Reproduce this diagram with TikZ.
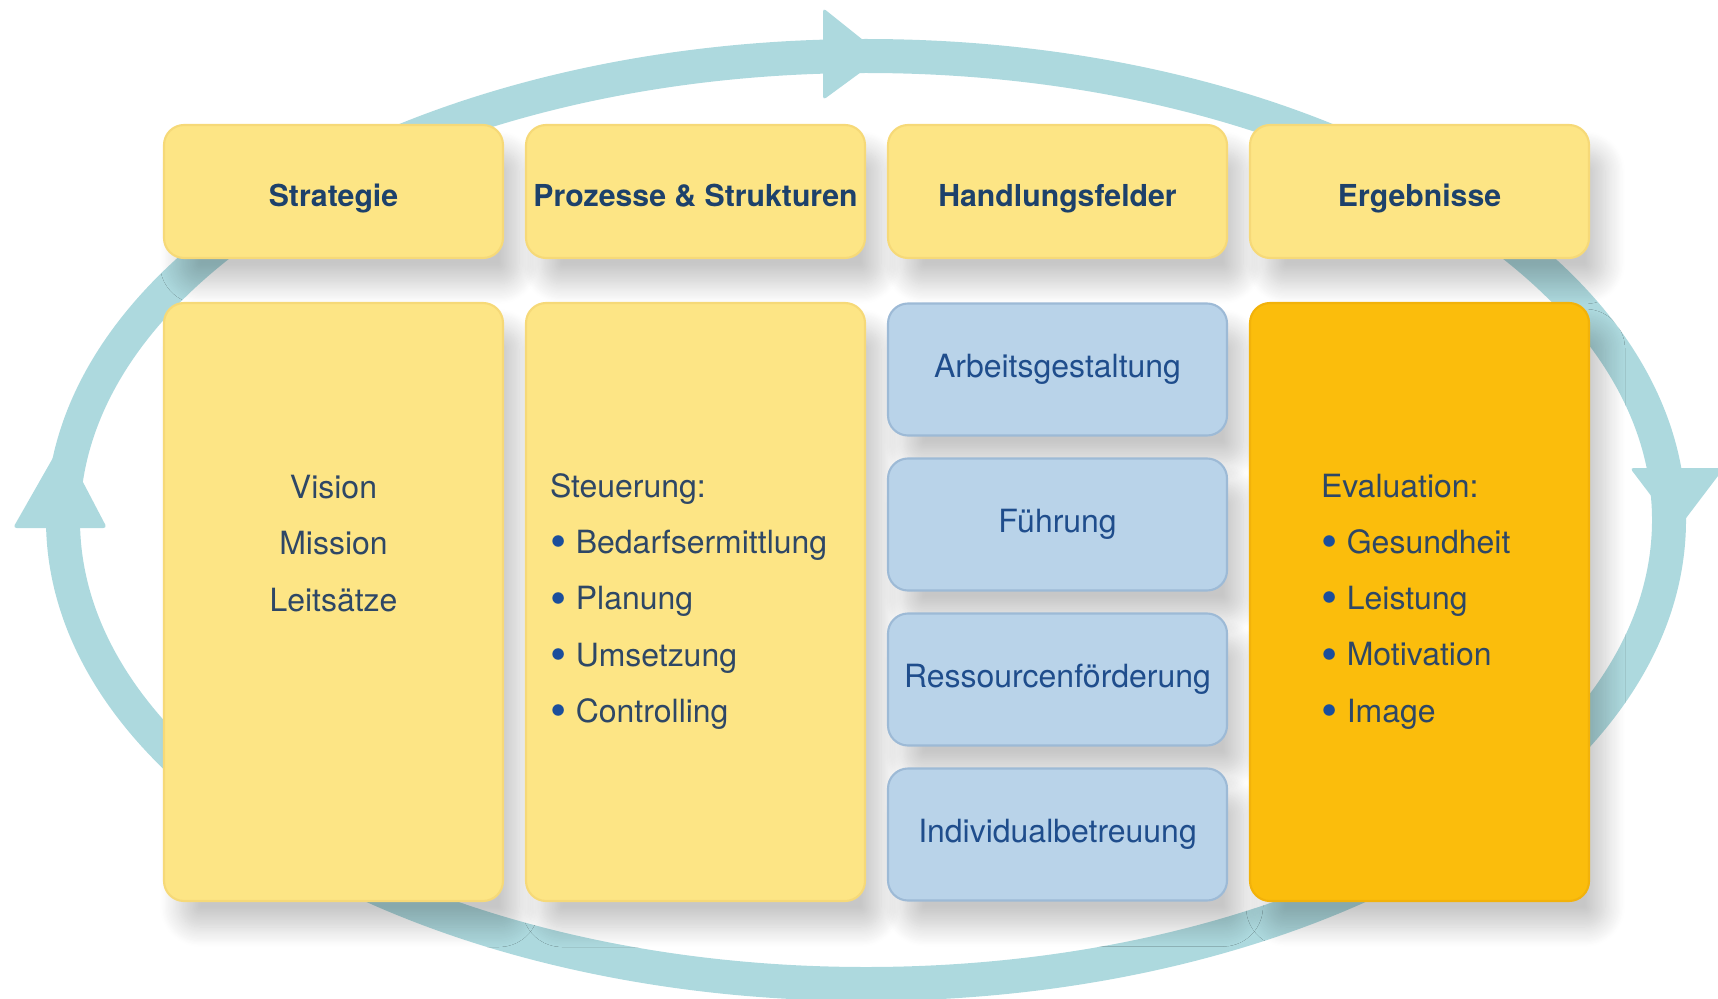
\documentclass[tikz,border=0pt]{standalone}
\usepackage{fontspec}
\setmainfont{TeX Gyre Heros}
\usetikzlibrary{calc,shadows.blur}

\definecolor{ringblue}{HTML}{ADD9DE}
\definecolor{lightyellow}{HTML}{FDE585}
\definecolor{yellowline}{HTML}{F6D978}
\definecolor{darkyellow}{HTML}{FBBD0C}
\definecolor{orangeline}{HTML}{F2B20A}
\definecolor{fieldblue}{HTML}{B9D3E9}
\definecolor{fieldline}{HTML}{9DBAD6}
\definecolor{titlenavy}{HTML}{1D416B}
\definecolor{textnavy}{HTML}{2E4766}
\definecolor{fieldtext}{HTML}{1F4D8C}
\definecolor{bulletblue}{HTML}{1B4E9B}

\newcommand{\bul}{{\color{bulletblue}\raisebox{-0.25ex}{\scalebox{1.45}{\textbullet}}}\hspace{0.3em}}

\begin{document}
\begin{tikzpicture}[
  every node/.style={inner sep=0pt, outer sep=0pt},
  boxshadow/.style={blur shadow={shadow xshift=0.16cm, shadow yshift=-0.26cm,
                    shadow blur radius=0.2cm, shadow blur steps=18, shadow opacity=22}},
  headbox/.style={boxshadow, rounded corners=0.2cm, fill=lightyellow, draw=yellowline,
                  line width=0.6pt, minimum width=3.39cm, minimum height=1.33cm,
                  text height=0.30cm, text depth=0cm,
                  font=\fontsize{8.6}{10}\selectfont\bfseries, text=titlenavy},
  colbox/.style={headbox, minimum height=5.98cm},
  fieldbox/.style={headbox, fill=fieldblue, draw=fieldline, minimum height=1.32cm,
                   text height=0.16cm, font=\fontsize{9.1}{10}\selectfont, text=fieldtext},
  listtext/.style={align=left, anchor=west, text=textnavy,
                   font=\fontsize{9.1}{16.0}\selectfont}
]

\useasboundingbox (0,0) rectangle (17.18,9.98);

% The cycle ring behind the boxes
\coordinate (hub) at (8.66,4.78);
\draw[ringblue, line width=0.34cm] (hub) ellipse [x radius=8.03, y radius=4.64];

% Arrow heads on the ring (top, left, right)
\fill[ringblue, rounded corners=1pt] (8.23,9.90) -- (8.83,9.42) -- (8.23,8.98) -- cycle;
\fill[ringblue, rounded corners=1pt] (0.13,4.70) -- (0.62,5.56) -- (1.07,4.70) -- cycle;
\fill[ringblue, rounded corners=1pt] (16.30,5.30) -- (16.77,4.68) -- (17.24,5.30) -- cycle;

% Head boxes
\node [headbox] (strategie) at (3.335,8.065) {Strategie};
\node [headbox] (prozesse) at ($(strategie)+(3.62,0)$) {Prozesse \& Strukturen};
\node [headbox] (handlung) at ($(prozesse)+(3.62,0)$) {Handlungsfelder};
\node [headbox] (ergebnis) at ($(handlung)+(3.62,0)$) {Ergebnisse};

% Column boxes below the heads
\node [colbox] (vision) at (3.335,3.96) {};
\node [colbox] (steuerung) at ($(vision)+(3.62,0)$) {};

% Fields of action, stacked
\node [fieldbox] (arbeit) at (10.575,6.285) {Arbeitsgestaltung};
\node [fieldbox] (fuehrung) at ($(arbeit)+(0,-1.55)$) {Führung};
\node [fieldbox] (ressourcen) at ($(fuehrung)+(0,-1.55)$) {Ressourcenförderung};
\node [fieldbox] (individual) at ($(ressourcen)+(0,-1.55)$) {Individualbetreuung};

% Results column, drawn last so no shadow lies on it
\node [colbox, fill=darkyellow, draw=orangeline] (evaluation) at ($(steuerung)+(7.24,0)$) {};

% Texts in the columns
\node [listtext, anchor=center, align=center] (visiontext) at (3.335,4.545)
    {Vision\\Mission\\Leitsätze};
\node [listtext] (steuertext) at (5.50,3.965)
    {Steuerung:\\ \bul Bedarfsermittlung\\ \bul Planung\\ \bul Umsetzung\\ \bul Controlling};
\node [listtext] (evaltext) at (13.21,3.965)
    {Evaluation:\\ \bul Gesundheit\\ \bul Leistung\\ \bul Motivation\\ \bul Image};

\end{tikzpicture}
\end{document}
